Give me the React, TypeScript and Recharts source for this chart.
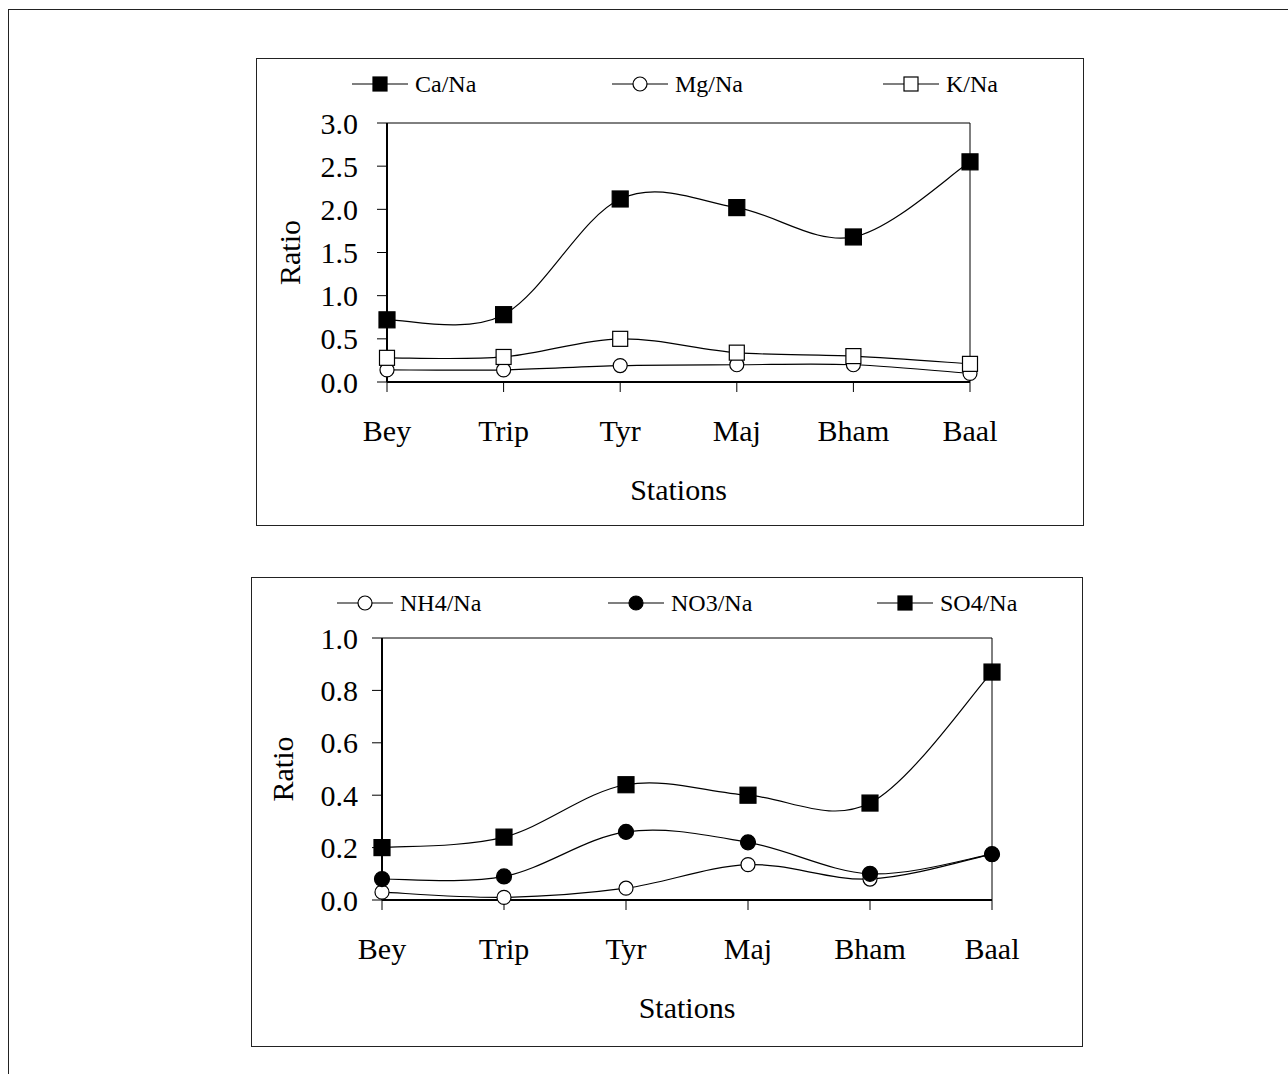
import React from 'react';
import { LineChart, Line, XAxis, YAxis, ReferenceLine } from 'recharts';

// Stations along the x axis
const STATIONS = ['Bey', 'Trip', 'Tyr', 'Maj', 'Bham', 'Baal'];

// Upper panel: cation ratios
const CA_NA = [0.72, 0.78, 2.12, 2.02, 1.68, 2.55];
const MG_NA = [0.14, 0.14, 0.19, 0.20, 0.20, 0.10];
const K_NA = [0.28, 0.29, 0.50, 0.34, 0.30, 0.21];
const TOP_TICKS = [0, 0.5, 1.0, 1.5, 2.0, 2.5, 3.0];

// Lower panel: anion ratios
const NH4_NA = [0.03, 0.01, 0.045, 0.135, 0.08, 0.175];
const NO3_NA = [0.08, 0.09, 0.26, 0.22, 0.10, 0.175];
const SO4_NA = [0.20, 0.24, 0.44, 0.40, 0.37, 0.87];
const BOTTOM_TICKS = [0, 0.2, 0.4, 0.6, 0.8, 1.0];

const topData = STATIONS.map((s, i) => ({ station: s, ca: CA_NA[i], mg: MG_NA[i], k: K_NA[i] }));
const bottomData = STATIONS.map((s, i) => ({ station: s, nh4: NH4_NA[i], no3: NO3_NA[i], so4: SO4_NA[i] }));

const FONT = '"Liberation Serif", "Times New Roman", serif';

// Excel-like smoothed line (cardinal / Catmull-Rom, tension 0)
function smoothCurve(context: any) {
  let pts: number[][] = [];
  return {
    areaStart() {},
    areaEnd() {},
    lineStart() { pts = []; },
    point(x: number, y: number) { pts.push([+x, +y]); },
    lineEnd() {
      const n = pts.length;
      if (!n) return;
      context.moveTo(pts[0][0], pts[0][1]);
      for (let i = 0; i < n - 1; i++) {
        const p0 = pts[Math.max(i - 1, 0)];
        const p1 = pts[i];
        const p2 = pts[i + 1];
        const p3 = pts[Math.min(i + 2, n - 1)];
        context.bezierCurveTo(
          p1[0] + (p2[0] - p0[0]) / 6, p1[1] + (p2[1] - p0[1]) / 6,
          p2[0] - (p3[0] - p1[0]) / 6, p2[1] - (p3[1] - p1[1]) / 6,
          p2[0], p2[1]
        );
      }
    },
  };
}

const squareDot = (size: number, filled: boolean) => (p: any) => {
  if (p.cx == null || p.cy == null) return <g key={`e-${p.index}`} />;
  return (
    <rect key={`sq-${p.index}`} x={p.cx - size / 2} y={p.cy - size / 2} width={size} height={size}
      fill={filled ? '#000' : '#fff'} stroke="#000" strokeWidth={1.2} />
  );
};

const circleDot = (r: number, filled: boolean) => (p: any) => {
  if (p.cx == null || p.cy == null) return <g key={`e-${p.index}`} />;
  return <circle key={`c-${p.index}`} cx={p.cx} cy={p.cy} r={r} fill={filled ? '#000' : '#fff'} stroke="#000" strokeWidth={1.2} />;
};

const yLabel = (dx: number) => (props: any) => {
  const vb = props.viewBox;
  const x = vb.x + dx;
  const y = vb.y + vb.height / 2;
  return (
    <text x={x} y={y} transform={`rotate(-90 ${x} ${y})`} textAnchor="middle" fill="#000"
      style={{ fontFamily: FONT, fontSize: 30 }}>Ratio</text>
  );
};

const xLabel = (props: any) => {
  const vb = props.viewBox;
  return (
    <text x={vb.x + vb.width / 2} y={vb.y + 118} textAnchor="middle" fill="#000"
      style={{ fontFamily: FONT, fontSize: 30 }}>Stations</text>
  );
};

const tickStyle = { fill: '#000', fontSize: 30, fontFamily: FONT };

function LegendItem({ x, y, label, marker }: { x: number; y: number; label: string; marker: 'fsq' | 'osq' | 'fc' | 'oc' }) {
  const w = 56;
  return (
    <div style={{ position: 'absolute', left: x, top: y - 14, height: 28, display: 'flex', alignItems: 'center' }}>
      <svg width={w} height={28}>
        <line x1={0} y1={14} x2={w} y2={14} stroke="#000" strokeWidth={1.2} />
        {marker === 'fsq' || marker === 'osq' ? (
          <rect x={w / 2 - 7} y={7} width={14} height={14} fill={marker === 'fsq' ? '#000' : '#fff'} stroke="#000" strokeWidth={1.2} />
        ) : (
          <circle cx={w / 2} cy={14} r={7} fill={marker === 'fc' ? '#000' : '#fff'} stroke="#000" strokeWidth={1.2} />
        )}
      </svg>
      <span style={{ fontFamily: FONT, fontSize: 24, color: '#000', marginLeft: 7, lineHeight: '28px' }}>{label}</span>
    </div>
  );
}

const boxStyle = (left: number, top: number, width: number, height: number): React.CSSProperties => ({
  position: 'absolute', left, top, width, height, boxSizing: 'border-box', border: '1.5px solid #222',
});

export default function App() {
  return (
    <div style={{ position: 'absolute', left: 0, top: 0, width: 1288, height: 1074, overflow: 'hidden', background: '#fff' }}>
      <div style={boxStyle(8, 9, 1320, 1100)} />
      <div style={boxStyle(256, 58, 828, 468)} />
      <div style={boxStyle(251, 577, 832, 470)} />

      <div style={{ position: 'absolute', left: 256, top: 58 }}>
        <LineChart width={827} height={467} data={topData} margin={{ top: 65, right: 113, bottom: 0, left: 0 }}>
          <XAxis dataKey="station" scale="point" padding={{ left: 0, right: 0 }} height={143}
            tick={tickStyle} tickSize={10} tickMargin={28}
            axisLine={{ stroke: '#000', strokeWidth: 2 }} tickLine={{ stroke: '#000', strokeWidth: 1 }}
            label={{ content: xLabel }} />
          <YAxis type="number" domain={[0, 3]} ticks={TOP_TICKS} width={131} interval={0}
            tickFormatter={(v: number) => v.toFixed(1)} tick={tickStyle} tickSize={10} tickMargin={19}
            axisLine={{ stroke: '#000', strokeWidth: 2 }} tickLine={{ stroke: '#000', strokeWidth: 1 }}
            label={{ content: yLabel(44) }} />
          <ReferenceLine y={3} stroke="#000" strokeWidth={1} />
          <ReferenceLine x="Baal" stroke="#000" strokeWidth={1} />
          <Line dataKey="ca" type={smoothCurve as any} stroke="#000" strokeWidth={1.2} dot={squareDot(16, true)} activeDot={false} isAnimationActive={false} />
          <Line dataKey="mg" type={smoothCurve as any} stroke="#000" strokeWidth={1.2} dot={circleDot(7, false)} activeDot={false} isAnimationActive={false} />
          <Line dataKey="k" type={smoothCurve as any} stroke="#000" strokeWidth={1.2} dot={squareDot(15, false)} activeDot={false} isAnimationActive={false} />
        </LineChart>
      </div>

      <div style={{ position: 'absolute', left: 251, top: 577 }}>
        <LineChart width={831} height={469} data={bottomData} margin={{ top: 61, right: 90, bottom: 0, left: 0 }}>
          <XAxis dataKey="station" scale="point" padding={{ left: 0, right: 0 }} height={146}
            tick={tickStyle} tickSize={10} tickMargin={28}
            axisLine={{ stroke: '#000', strokeWidth: 2 }} tickLine={{ stroke: '#000', strokeWidth: 1 }}
            label={{ content: xLabel }} />
          <YAxis type="number" domain={[0, 1]} ticks={BOTTOM_TICKS} width={131} interval={0}
            tickFormatter={(v: number) => v.toFixed(1)} tick={tickStyle} tickSize={10} tickMargin={14}
            axisLine={{ stroke: '#000', strokeWidth: 2 }} tickLine={{ stroke: '#000', strokeWidth: 1 }}
            label={{ content: yLabel(42) }} />
          <ReferenceLine y={1} stroke="#000" strokeWidth={1} />
          <ReferenceLine x="Baal" stroke="#000" strokeWidth={1} />
          <Line dataKey="nh4" type={smoothCurve as any} stroke="#000" strokeWidth={1.2} dot={circleDot(7, false)} activeDot={false} isAnimationActive={false} />
          <Line dataKey="no3" type={smoothCurve as any} stroke="#000" strokeWidth={1.2} dot={circleDot(7.5, true)} activeDot={false} isAnimationActive={false} />
          <Line dataKey="so4" type={smoothCurve as any} stroke="#000" strokeWidth={1.2} dot={squareDot(16, true)} activeDot={false} isAnimationActive={false} />
        </LineChart>
      </div>

      <LegendItem x={352} y={84} label="Ca/Na" marker="fsq" />
      <LegendItem x={612} y={84} label="Mg/Na" marker="oc" />
      <LegendItem x={883} y={84} label="K/Na" marker="osq" />

      <LegendItem x={337} y={603} label="NH4/Na" marker="oc" />
      <LegendItem x={608} y={603} label="NO3/Na" marker="fc" />
      <LegendItem x={877} y={603} label="SO4/Na" marker="fsq" />
    </div>
  );
}
